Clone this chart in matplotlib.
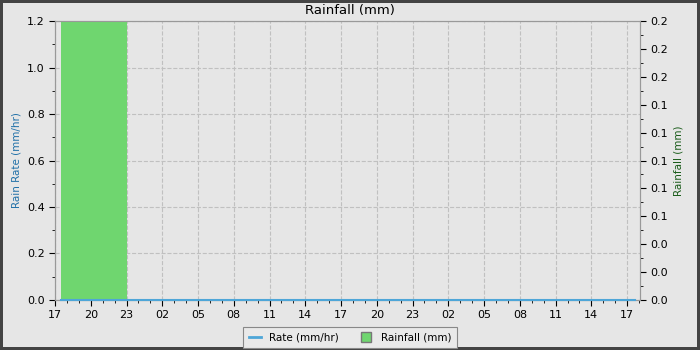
import numpy as np
import pandas as pd
import matplotlib
matplotlib.use("Agg")
import matplotlib.pyplot as plt
import matplotlib.dates as mdates
from matplotlib.lines import Line2D

# Rain rate samples (mm/hr)
rate_times = pd.to_datetime(["2024-05-01 17:30", "2024-05-02 05:00",
                             "2024-05-02 17:00", "2024-05-03 05:00",
                             "2024-05-03 17:40"])
rate_values = [0.0, 0.0, 0.0, 0.0, 0.0]

# Rainfall buckets (mm)
rain_start = pd.to_datetime(["2024-05-01 17:30"])
rain_end = pd.to_datetime(["2024-05-01 23:00"])
rain_values = [0.2]

x_start = pd.Timestamp("2024-05-01 17:00")
x_end = pd.Timestamp("2024-05-03 18:05")

bg = "#e6e6e6"
rate_color = "#4ea6d8"
rain_color = "#6fd66f"

fig = plt.figure(figsize=(7, 3.5), dpi=100, facecolor=bg,
                 edgecolor="#444444", linewidth=3)
ax = fig.add_axes([0.0786, 0.1429, 0.8357, 0.797])
ax.set_facecolor(bg)
ax2 = ax.twinx()

ax.set_xlim(x_start, x_end)
ax.set_ylim(0, 1.2)
ax.set_yticks(np.arange(0, 1.21, 0.2))
ax.yaxis.set_major_formatter(plt.FormatStrFormatter("%.1f"))
ax.yaxis.set_minor_locator(plt.MultipleLocator(0.1))
ax.set_ylabel("Rain Rate (mm/hr)", color="#2070a8", fontsize=7.5)
ax.xaxis.set_major_locator(mdates.HourLocator(byhour=range(2, 24, 3)))
ax.xaxis.set_minor_locator(mdates.HourLocator())
ax.xaxis.set_major_formatter(mdates.DateFormatter("%H"))
ax.grid(True, which="major", color="#c0c0c0", linestyle="--", linewidth=0.8)

# rainfall bars on the right axis (covers the grid)
widths = [(e - s) / pd.Timedelta(days=1) for s, e in zip(rain_start, rain_end)]
ax2.bar(rain_start, rain_values, width=widths, align="edge",
        color=rain_color, edgecolor="none", zorder=1)

# rate line uses the left axis scale but sits above the bars
ax2.plot(rate_times, rate_values, color=rate_color, lw=1.5,
         transform=ax.transData, zorder=3, clip_on=False)

ax2.set_ylim(0, 0.2)
ax2.set_yticks(np.arange(0, 0.201, 0.02))
ax2.yaxis.set_major_formatter(plt.FormatStrFormatter("%.1f"))
ax2.yaxis.set_minor_locator(plt.MultipleLocator(0.01))
ax2.set_ylabel("Rainfall (mm)", color="#1a5c1a", fontsize=7.5)
ax2.set_xlim(x_start, x_end)

for a in (ax, ax2):
    a.tick_params(which="major", length=4, labelsize=8, colors="black")
    a.tick_params(which="minor", length=2)
    for s in a.spines.values():
        s.set_color("#999999")

fig.text(0.5, 0.971, "Rainfall (mm)", fontsize=9.5, ha="center", va="center")

handles = [Line2D([], [], color=rate_color, lw=2),
           Line2D([], [], marker="s", linestyle="none", markersize=7,
                  markerfacecolor=rain_color, markeredgecolor="#777777")]
leg = fig.legend(handles, ["Rate (mm/hr)", "Rainfall (mm)"], ncol=2,
                 loc="upper center", bbox_to_anchor=(0.5, 0.08),
                 fontsize=7.5, fancybox=False, framealpha=1,
                 facecolor="#e9e9e9", edgecolor="#888888",
                 handlelength=1.2, columnspacing=2.0, borderpad=0.5)
leg.get_frame().set_linewidth(0.8)

fig.savefig("out.png", dpi=100, facecolor=bg, edgecolor="#444444")
